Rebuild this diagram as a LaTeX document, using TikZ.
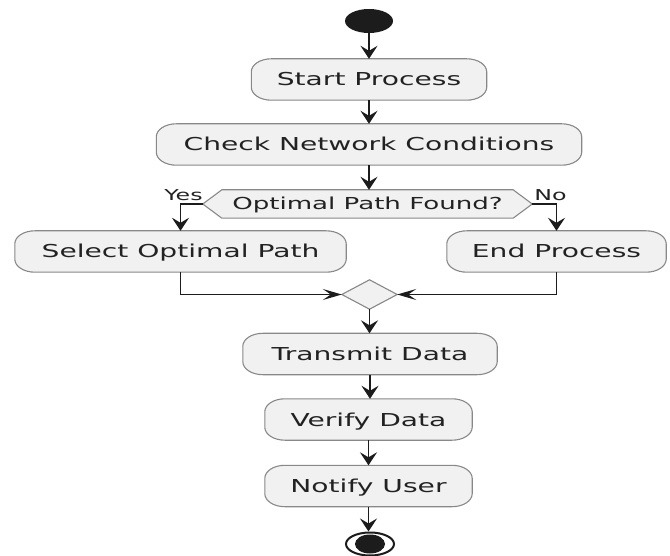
\documentclass[tikz,border=0pt]{standalone}
\usepackage{fontspec}
\usetikzlibrary{arrows.meta,shapes.geometric,backgrounds}
\newfontfamily\actfont[FakeStretch=1.58]{DejaVu Sans}

\definecolor{ink}{HTML}{1C1C1C}
\definecolor{txt}{HTML}{222222}
\definecolor{boxfill}{HTML}{F1F1F1}
\definecolor{boxedge}{HTML}{888888}

% rounded activity outline with elliptic corners, drawn around a named node
\newcommand\pillpath[1]{%
  \draw[boxline] ([xshift=20pt]#1.north west) -- ([xshift=-20pt]#1.north east)
    arc[start angle=90,end angle=0,x radius=20pt,y radius=13pt]
    -- ([yshift=13pt]#1.south east)
    arc[start angle=0,end angle=-90,x radius=20pt,y radius=13pt]
    -- ([xshift=20pt]#1.south west)
    arc[start angle=270,end angle=180,x radius=20pt,y radius=13pt]
    -- ([yshift=-13pt]#1.north west)
    arc[start angle=180,end angle=90,x radius=20pt,y radius=13pt]
    -- cycle;}

\tikzset{
  boxline/.style={draw=boxedge, fill=boxfill, line width=1.1pt},
  act/.style={minimum width=#1, minimum height=41pt, inner sep=0pt,
    text=txt, font=\actfont\fontsize{17.8}{20}\selectfont,
    text height=13pt, text depth=0pt},
  lbl/.style={inner sep=0pt, text=txt, font=\actfont\fontsize{15}{17}\selectfont},
  flow/.style={draw=ink, line width=1.7pt,
    -{Stealth[length=13pt,width=17pt,inset=5pt]}},
  hflow/.style={draw=ink, line width=1.4pt,
    -{Stealth[length=19pt,width=11pt,inset=8pt]}},
}

\begin{document}
\begin{tikzpicture}[x=1pt,y=1pt]
\useasboundingbox (0,0) rectangle (670,-556);

% initial node
\node[ellipse, fill=ink, minimum width=48pt, minimum height=24pt, inner sep=0pt] (start) at (369,-21) {};

% activities
\node[act=235pt] (sp)  at (369,-79.5)  {Start Process};
\node[act=425pt] (chk) at (369,-144.5) {Check Network Conditions};

% decision
\node[minimum width=329pt, minimum height=28pt, inner sep=0pt, text=txt,
      font=\actfont\fontsize{16.5}{18}\selectfont, text height=12pt, text depth=0pt]
      (dec) at (367.5,-204) {Optimal Path Found?};
\node[lbl, anchor=base east] (yes) at ([yshift=3pt]dec.west) {Yes};
\node[lbl, anchor=base west] (no)  at ([xshift=2pt,yshift=3pt]dec.east) {No};

\node[act=331pt] (sel)  at (180.5,-251.5) {Select Optimal Path};
\node[act=219pt] (endp) at (556.5,-251.5) {End Process};

% merge
\node[minimum width=55pt, minimum height=29pt, inner sep=0pt] (merge) at (369.5,-294.5) {};

\node[act=254pt] (tx)  at (370,-354)   {Transmit Data};
\node[act=207pt] (ver) at (368.5,-419.5) {Verify Data};
\node[act=207pt] (not) at (368.5,-486)  {Notify User};

% final node
\node[ellipse, draw=ink, line width=2pt, fill=white, minimum width=48pt, minimum height=23pt, inner sep=0pt] (stop) at (370,-544) {};
\node[ellipse, fill=ink, minimum width=30pt, minimum height=19pt, inner sep=0pt] (stopdot) at (stop.center) {};

% shapes behind the texts
\begin{pgfonlayer}{background}
  \pillpath{sp}
  \pillpath{chk}
  \pillpath{sel}
  \pillpath{endp}
  \pillpath{tx}
  \pillpath{ver}
  \pillpath{not}
  \draw[boxline] (dec.west) -- ([xshift=19pt]dec.north west) -- ([xshift=-19pt]dec.north east)
    -- (dec.east) -- ([xshift=-19pt]dec.south east) -- ([xshift=19pt]dec.south west) -- cycle;
  \draw[boxline] (merge.west) -- (merge.north) -- (merge.east) -- (merge.south) -- cycle;
\end{pgfonlayer}

% connectors
\draw[flow] (start.south) -- (start.south |- sp.north);
\draw[flow] (sp.south) -- (sp.south |- chk.north);
\draw[flow] (chk.south) -- (chk.south |- dec.north);
\draw[flow] (dec.west) -| (sel.north);
\draw[flow] (dec.east) -| (endp.north);
\draw[hflow] (sel.south) |- (merge.west);
\draw[hflow] (endp.south) |- (merge.east);
\draw[flow] (merge.south) -- (merge.south |- tx.north);
\draw[flow] (tx.south) -- (tx.south |- ver.north);
\draw[flow] (ver.south) -- (ver.south |- not.north);
\draw[flow] (not.south) -- (not.south |- stop.north);
\end{tikzpicture}
\end{document}
